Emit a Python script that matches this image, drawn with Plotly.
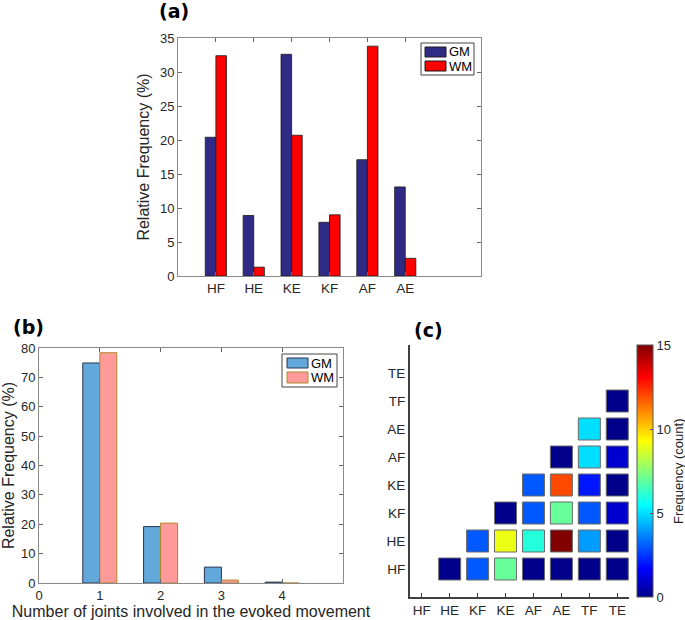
import plotly.graph_objects as go

# ---------------- data ----------------
# Panel (a)
joint_moves = ["HF", "HE", "KE", "KF", "AF", "AE"]
gm_a = [20.4, 8.9, 32.6, 7.9, 17.1, 13.1]
wm_a = [32.4, 1.3, 20.7, 9.0, 33.8, 2.6]

# Panel (b)
n_joints = [1, 2, 3, 4]
gm_b = [74.9, 19.2, 5.4, 0.3]
wm_b = [78.4, 20.4, 1.0, 0.0]

# Panel (c)
pair_labels = ["HF", "HE", "KF", "KE", "AF", "AE", "TF", "TE"]
# rows = y label (bottom->top), columns = x label; None = not shown
pair_counts = [
    [None, 0, 3, 7, 0, 0, 0, 0],        # HF
    [None, None, 3, 9, 6, 15, 4, 0],    # HE
    [None, None, None, 0, 3, 7, 3, 1],  # KF
    [None, None, None, None, 3, 12, 2, 0],  # KE
    [None, None, None, None, None, 0, 5, 1],  # AF
    [None, None, None, None, None, None, 5, 0],  # AE
    [None, None, None, None, None, None, None, 0],  # TF
    [None, None, None, None, None, None, None, None],  # TE
]
series_names = ["GM", "WM"]

W, H = 685, 620
FONT = "Liberation Sans, Arial, Helvetica, sans-serif"
TXT = "#262626"


def px_x(p):
    return p / W


def px_y(p):
    return 1 - p / H


jet = [
    [0.0, "#00008A"], [0.111, "#0000FF"], [0.365, "#00FFFF"],
    [0.619, "#FFFF00"], [0.873, "#FF0000"], [1.0, "#800000"],
]

colors_a = ["#2F2B85", "#FF0000"]
edges_a = ["#1a1a1a", "#1a1a1a"]
colors_b = ["#62A8DA", "#FF9A9A"]
edges_b = ["#28344F", "#B08A2A"]

fig = go.Figure()

# ---- panel (a)
xa = list(range(1, len(joint_moves) + 1))
for name, vals, col, edg in zip(series_names, [gm_a, wm_a], colors_a, edges_a):
    fig.add_trace(go.Bar(x=xa, y=vals, name=name, showlegend=False,
                         marker=dict(color=col, line=dict(color=edg, width=0.8)),
                         xaxis="x", yaxis="y", offsetgroup="a" + name))

# ---- panel (b)
for name, vals, col, edg in zip(series_names, [gm_b, wm_b], colors_b, edges_b):
    fig.add_trace(go.Bar(x=n_joints, y=vals, name=name, showlegend=False,
                         marker=dict(color=col, line=dict(color=edg, width=1)),
                         xaxis="x2", yaxis="y2", offsetgroup="b" + name))

# ---- panel (c)
cx, cy, cv = [], [], []
for r, row in enumerate(pair_counts):
    for c, v in enumerate(row):
        if v is not None:
            cx.append(c + 1)
            cy.append(r + 1)
            cv.append(v)

fig.add_trace(go.Scatter(
    x=cx, y=cy, mode="markers", xaxis="x3", yaxis="y3", showlegend=False,
    marker=dict(symbol="square", size=22, color=cv, cmin=0, cmax=15,
                colorscale=jet, line=dict(color="#6a6a6a", width=1),
                showscale=True,
                colorbar=dict(x=px_x(637), xanchor="left", xpad=0, ypad=0,
                              thickness=16,
                              len=(597 - 345) / H, lenmode="fraction",
                              y=px_y(597), yanchor="bottom",
                              outlinecolor="#555", outlinewidth=1,
                              tickvals=[0, 5, 10, 15], ticks="inside", ticklen=3,
                              tickcolor="#555",
                              tickfont=dict(size=13, color=TXT, family=FONT)))
))

box_axis = dict(showline=True, mirror="ticks", linecolor="#8a8a8a", linewidth=1,
                ticks="inside", ticklen=4, tickcolor="#666", showgrid=False,
                zeroline=False, tickfont=dict(size=13, color=TXT, family=FONT))

shapes = []
annotations = []


def add_legend(box, swatches, cols, edgs):
    x0, y0, x1, y1 = box
    shapes.append(dict(type="rect", xref="paper", yref="paper",
                       x0=px_x(x0), x1=px_x(x1), y0=px_y(y1), y1=px_y(y0),
                       line=dict(color="#444", width=1), fillcolor="white", layer="above"))
    for (sx0, sy0, sx1, sy1), name, col, edg in zip(swatches, series_names, cols, edgs):
        shapes.append(dict(type="rect", xref="paper", yref="paper",
                           x0=px_x(sx0), x1=px_x(sx1), y0=px_y(sy1), y1=px_y(sy0),
                           line=dict(color=edg, width=1), fillcolor=col, layer="above"))
        annotations.append(dict(text=name, x=px_x(sx1 + 1), y=px_y((sy0 + sy1) / 2),
                                xref="paper", yref="paper", xanchor="left",
                                yanchor="middle", showarrow=False,
                                font=dict(size=13, color="black", family=FONT)))


add_legend((421, 43, 474, 75), [(425, 47, 446, 57), (425, 61, 446, 71)], colors_a, edges_a)
add_legend((282, 354, 337, 387), [(287, 358, 308, 368), (287, 372, 308, 383)], colors_b, edges_b)

lab_font = dict(size=19, family="DejaVu Sans", color="black")
annotations += [
    dict(text="<b>(a)</b>", x=px_x(174), y=px_y(11), xref="paper", yref="paper",
         xanchor="center", yanchor="middle", showarrow=False, font=lab_font),
    dict(text="<b>(b)</b>", x=px_x(28), y=px_y(327), xref="paper", yref="paper",
         xanchor="center", yanchor="middle", showarrow=False, font=lab_font),
    dict(text="<b>(c)</b>", x=px_x(428), y=px_y(330), xref="paper", yref="paper",
         xanchor="center", yanchor="middle", showarrow=False, font=lab_font),
    dict(text="Frequency (count)", x=px_x(678), y=px_y(471), xref="paper", yref="paper",
         xanchor="center", yanchor="middle",
         textangle=-90, showarrow=False, font=dict(size=13, color=TXT, family=FONT)),
]

fig.update_layout(
    width=W, height=H, margin=dict(l=0, r=0, t=0, b=0, autoexpand=False),
    paper_bgcolor="white", plot_bgcolor="white",
    font=dict(family=FONT, color=TXT),
    barmode="group", bargap=0.44, bargroupgap=0,
    xaxis=dict(box_axis, domain=[px_x(178), px_x(481)], range=[0, 8],
               tickvals=xa, ticktext=joint_moves,
               tickfont=dict(size=13.5, color=TXT, family=FONT), anchor="y"),
    yaxis=dict(box_axis, domain=[px_y(276), px_y(38)], range=[0, 35], dtick=5,
               anchor="x",
               title=dict(text="Relative Frequency (%)", font=dict(size=16, color=TXT, family=FONT),
                          standoff=6)),
    xaxis2=dict(box_axis, domain=[px_x(39), px_x(343)], range=[0, 5],
                tickvals=[0, 1, 2, 3, 4], anchor="y2",
                title=dict(text="Number of joints involved in the evoked movement",
                           font=dict(size=16, color=TXT, family=FONT), standoff=2)),
    yaxis2=dict(box_axis, domain=[px_y(583), px_y(348)], range=[0, 80], dtick=10,
                anchor="x2",
                title=dict(text="Relative Frequency (%)", font=dict(size=16, color=TXT, family=FONT),
                           standoff=2)),
    xaxis3=dict(domain=[px_x(410), px_x(629)], range=[0.58, 8.42], anchor="y3",
                showline=True, linecolor="#404040", linewidth=2, ticks="inside",
                ticklen=4, tickcolor="#404040", showgrid=False, zeroline=False,
                tickvals=list(range(1, len(pair_labels) + 1)), ticktext=pair_labels,
                tickfont=dict(size=13.5, color=TXT, family=FONT)),
    yaxis3=dict(domain=[px_y(597), px_y(345)], range=[0, 9], anchor="x3",
                showline=True, linecolor="#404040", linewidth=2, ticks="",
                showgrid=False, zeroline=False,
                tickvals=list(range(1, len(pair_labels) + 1)), ticktext=pair_labels,
                tickfont=dict(size=13.5, color=TXT, family=FONT)),
    shapes=shapes,
    annotations=annotations,
)

fig.write_html("out.html", config={"displayModeBar": False},
               post_script="document.body.style.margin='0px';"
                           "document.body.style.overflow='hidden';")
